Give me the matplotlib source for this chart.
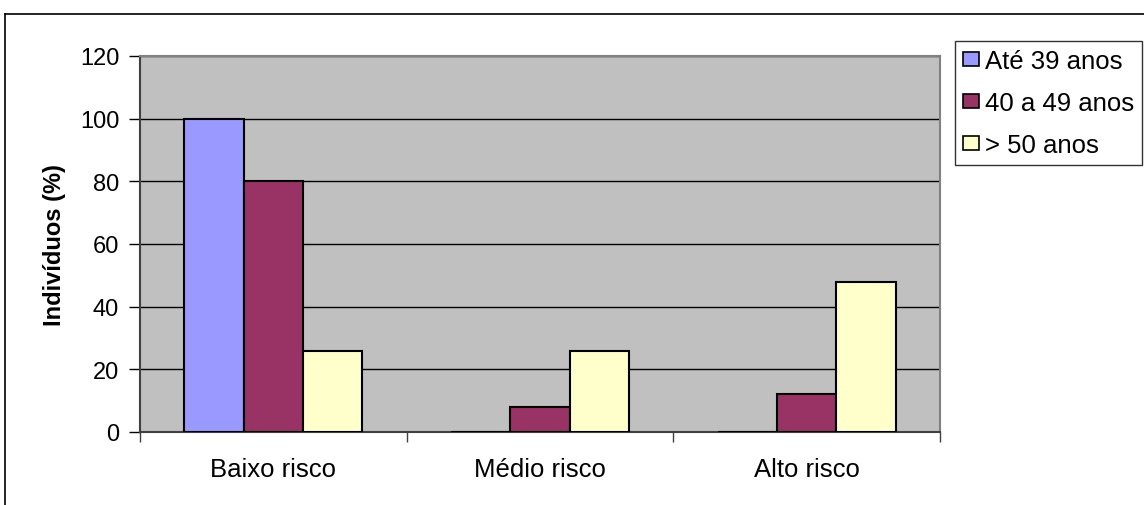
import numpy as np
import matplotlib.pyplot as plt
from matplotlib.lines import Line2D

plt.rcParams['font.family'] = ['Liberation Sans', 'DejaVu Sans']

# Data
categorias = ['Baixo risco', 'Médio risco', 'Alto risco']
ate_39 = [100, 0, 0]
de_40_49 = [80, 8, 12]
acima_50 = [26, 26, 48]
series = ['Até 39 anos', '40 a 49 anos', '> 50 anos']
cores = ['#9999FF', '#993366', '#FFFFCC']

W, H = 1144, 506
fig = plt.figure(figsize=(W / 100, H / 100), dpi=100)

# plot area in pixel terms
left, right, top, bottom = 140, 940, 57, 433
ax = fig.add_axes([left / W, 1 - bottom / H, (right - left) / W, (bottom - top) / H])
ax.set_facecolor('#C0C0C0')

# bars: width w, gap 1.5 w between groups
w = 1 / 4.5
x = np.arange(len(categorias))
for i, (vals, cor, nome) in enumerate(zip([ate_39, de_40_49, acima_50], cores, series)):
    pos = x - w + i * w
    ax.bar(pos, vals, width=w, color=cor, edgecolor='black', linewidth=1.5,
           label=nome, zorder=3)

ax.set_xlim(-0.5, 2.5)
ax.set_ylim(0, 120)
ax.set_yticks(range(0, 121, 20))
ax.yaxis.grid(True, color='black', linewidth=1)
ax.set_axisbelow(True)

ax.set_xticks([-0.5, 0.5, 1.5, 2.5])
ax.set_xticklabels([])
ax.set_xticks(x, minor=True)
ax.set_xticklabels(categorias, minor=True, fontsize=18.5)
ax.tick_params(axis='x', which='major', length=7, width=1, color='#404040')
ax.tick_params(axis='x', which='minor', length=0, pad=18)
ax.tick_params(axis='y', length=8, width=1, labelsize=17, pad=7)

for s in ['top', 'right']:
    ax.spines[s].set_color('#808080')
    ax.spines[s].set_linewidth(1.5)
for s in ['left', 'bottom']:
    ax.spines[s].set_color('#404040')
    ax.spines[s].set_linewidth(1.5)

ax.set_ylabel('Indivíduos (%)', fontsize=17, fontweight='bold', labelpad=10)

leg = fig.legend(loc='upper left', bbox_to_anchor=(955 / W, 1 - 42 / H),
                 fontsize=18.5, frameon=True, fancybox=False, edgecolor='black',
                 handlelength=0.6, handleheight=0.48, handletextpad=0.24,
                 labelspacing=0.7, borderpad=0.32, borderaxespad=0)
leg.get_frame().set_linewidth(1)
for h in leg.legend_handles:
    h.set_linewidth(1.2)

# outer chart frame (top and left edges)
fig.add_artist(Line2D([5 / W, 5 / W], [0, 1 - 15 / H], color='black', linewidth=1.2))
fig.add_artist(Line2D([5 / W, 1], [1 - 15 / H, 1 - 15 / H], color='black', linewidth=1.2))

fig.savefig('out.png', dpi=100)
